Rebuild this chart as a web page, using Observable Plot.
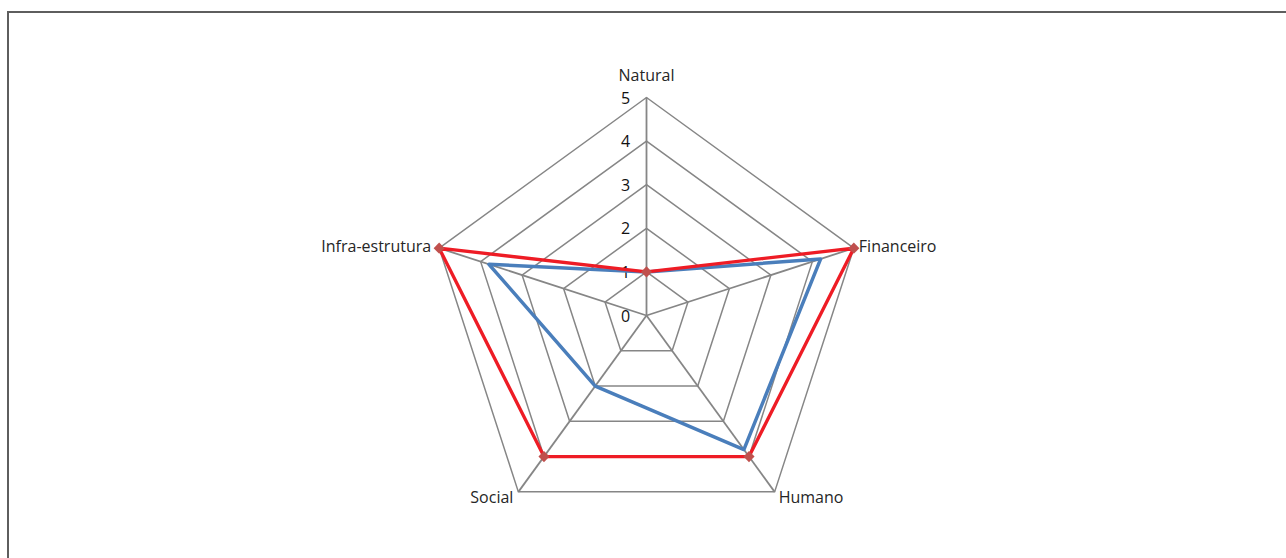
<!DOCTYPE html>
<html>
<head>
<meta charset="utf-8">
<script src="https://cdn.jsdelivr.net/npm/d3@7"></script>
<script src="https://cdn.jsdelivr.net/npm/@observablehq/plot@0.6"></script>
<style>
  html, body { margin: 0; padding: 0; background: #fff; overflow: hidden; }
  #wrap { position: relative; width: 1286px; height: 558px; }
  #frame { position: absolute; left: 7px; top: 11px; width: 1290px; height: 560px;
           border-top: 2px solid #5e5e5e; border-left: 2px solid #5e5e5e; pointer-events: none; }
  #chart { position: absolute; left: 0; top: 0; }
</style>
</head>
<body>
<div id="wrap"><div id="chart"></div><div id="frame"></div></div>
<script>
// ---- data ----
const categories = ["Natural", "Financeiro", "Humano", "Social", "Infra-estrutura"];
const seriesRed = [1, 5, 4, 4, 5];
const seriesBlue = [1, 4.2, 3.8, 2, 3.8];
const levels = [0, 1, 2, 3, 4, 5];
const maxLevel = 5;

// ---- layout config ----
const W = 1286, H = 558;
const cx = 646, cy = 315, unit = 43.6;

const n = categories.length;
const angle = i => (i * 2 * Math.PI) / n;
const px = (i, v) => v * Math.sin(angle(i));
const py = (i, v) => v * Math.cos(angle(i));

const rings = [];
levels.filter(l => l > 0).forEach(l => {
  categories.forEach((c, i) => rings.push({level: l, x: px(i, l), y: py(i, l)}));
});
const spokes = categories.map((c, i) => ({x1: 0, y1: 0, x2: px(i, maxLevel), y2: py(i, maxLevel)}));
const mk = (arr, name) => arr.map((v, i) => ({series: name, cat: categories[i], x: px(i, v), y: py(i, v)}));
const blueData = mk(seriesBlue, "blue");
const redData = mk(seriesRed, "red");

const labelOpts = [
  {dx: 0, dy: -22, anchor: "middle"},
  {dx: 5, dy: -1, anchor: "start"},
  {dx: 4, dy: 6, anchor: "start"},
  {dx: -5, dy: 6, anchor: "end"},
  {dx: -8, dy: -1, anchor: "end"}
];
const catLabels = categories.map((c, i) => ({name: c, x: px(i, maxLevel), y: py(i, maxLevel), ...labelOpts[i]}));
const tickLabels = levels.map(l => ({label: String(l), x: 0, y: l}));

const font = "'Open Sans', sans-serif";
const gridColor = "#868686";

const marks = [
  Plot.line(rings, {x: "x", y: "y", z: "level", curve: "linear-closed", stroke: gridColor, strokeWidth: 1.5}),
  Plot.link(spokes, {x1: "x1", y1: "y1", x2: "x2", y2: "y2", stroke: gridColor, strokeWidth: 1.8}),
  Plot.text(tickLabels, {x: "x", y: "y", text: "label", dx: -21, dy: 1, textAnchor: "middle",
    fontSize: 16, fill: "#111", fontFamily: font}),
  Plot.line(blueData, {x: "x", y: "y", curve: "linear-closed", stroke: "#4a7ebb", strokeWidth: 3.5, strokeLinejoin: "round"}),
  Plot.line(redData, {x: "x", y: "y", curve: "linear-closed", stroke: "#ee1c25", strokeWidth: 3.3, strokeLinejoin: "round"}),
  Plot.dot(redData, {x: "x", y: "y", symbol: "diamond2", r: 5, fill: "#c0504d", stroke: "none"})
];
catLabels.forEach(d => {
  marks.push(Plot.text([d], {x: "x", y: "y", text: "name", dx: d.dx, dy: d.dy, textAnchor: d.anchor,
    fontSize: 16, fill: "#262626", fontFamily: font, style: "letter-spacing:0.5px"}));
});

const chart = Plot.plot({
  width: W, height: H,
  marginTop: 0, marginRight: 0, marginBottom: 0, marginLeft: 0,
  x: {domain: [-cx / unit, (W - cx) / unit], range: [0, W], axis: null},
  y: {domain: [-(H - cy) / unit, cy / unit], range: [H, 0], axis: null},
  style: {background: "#fff", overflow: "visible"},
  marks
});
document.getElementById("chart").appendChild(chart);
</script>
</body>
</html>
